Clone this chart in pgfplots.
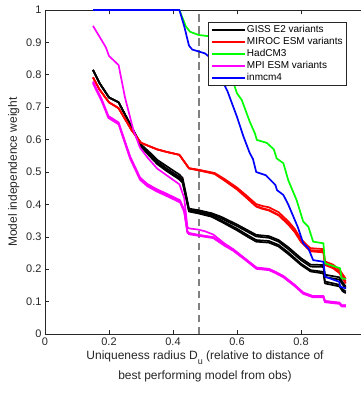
\documentclass[border=0pt]{standalone}
\usepackage{pgfplots}
\pgfplotsset{compat=1.18}
\usepackage{fontspec}
\setmainfont{Liberation Sans}
\definecolor{axgray}{gray}{0.15}
\definecolor{mag}{RGB}{255,0,255}
\definecolor{grn}{RGB}{0,255,0}
\definecolor{blu}{RGB}{0,0,255}
\definecolor{rd}{RGB}{255,0,0}
\begin{document}
\begin{tikzpicture}
\begin{axis}[
  scale only axis, width=320pt, height=324pt,
  xmin=0, xmax=1, ymin=0, ymax=1,
  xtick={0,0.2,0.4,0.6,0.8}, ytick={0,0.1,...,1.01},
  tick align=inside, tick pos=both, major tick length=4pt,
  /pgf/number format/assume math mode=true,
  /pgf/number format/fixed,
  ticklabel style={font=\fontsize{11}{13}\selectfont, text=axgray},
  axis line style={axgray, line width=0.6pt},
  every tick/.style={axgray, line width=0.6pt},
  xlabel={Uniqueness radius D\raisebox{-0.35em}{\fontsize{9}{10}\selectfont u} (relative to distance of\\best performing model from obs)},
  xlabel style={align=center, font=\fontsize{12}{19.5}\selectfont, text=axgray, yshift=1pt},
  ylabel={Model independence weight},
  ylabel style={font=\fontsize{12}{14}\selectfont, text=axgray},
  legend style={at={(rel axis cs:0.51,0.964)}, anchor=north west, font=\fontsize{10}{12}\selectfont, draw=axgray, line width=0.6pt, row sep=1.2pt, inner sep=2.5pt, nodes={inner sep=1pt}},
  legend cell align=left,
  legend image code/.code={\draw[#1, line width=2pt] (0pt,0pt) -- (33pt,0pt);},
  every axis plot/.append style={line width=1.7pt, line join=round},
]
% dashed line
\addplot[gray, line width=1.8pt, dash pattern=on 7.5pt off 4.5pt, forget plot] coordinates {(0.48,0) (0.48,1)};

% GISS E2 variants
\addplot[black] coordinates {(0.15,0.815)(0.17,0.775)(0.19,0.745)(0.20,0.73)(0.23,0.715)(0.27,0.64)(0.30,0.585)(0.33,0.558)(0.35,0.538)(0.38,0.518)(0.42,0.492)(0.43,0.482)(0.45,0.387)(0.48,0.382)(0.52,0.373)(0.55,0.362)(0.60,0.338)(0.63,0.322)(0.66,0.306)(0.70,0.302)(0.73,0.29)(0.76,0.268)(0.80,0.234)(0.83,0.214)(0.87,0.213)(0.875,0.183)(0.92,0.175)(0.93,0.16)(0.94,0.146)};
\addlegendentry{GISS E2 variants}
\addplot[black, forget plot] coordinates {(0.15,0.815)(0.17,0.775)(0.19,0.745)(0.20,0.73)(0.23,0.715)(0.27,0.64)(0.30,0.582)(0.33,0.553)(0.35,0.532)(0.38,0.511)(0.42,0.485)(0.43,0.475)(0.45,0.383)(0.48,0.378)(0.52,0.369)(0.55,0.357)(0.60,0.333)(0.63,0.317)(0.66,0.301)(0.70,0.297)(0.73,0.285)(0.76,0.262)(0.80,0.228)(0.83,0.208)(0.87,0.207)(0.875,0.176)(0.92,0.168)(0.93,0.153)(0.94,0.14)};
\addplot[black, forget plot] coordinates {(0.15,0.815)(0.17,0.775)(0.19,0.745)(0.20,0.73)(0.23,0.715)(0.27,0.64)(0.30,0.58)(0.33,0.549)(0.35,0.528)(0.38,0.506)(0.42,0.48)(0.43,0.47)(0.45,0.38)(0.48,0.375)(0.52,0.365)(0.55,0.351)(0.60,0.325)(0.63,0.307)(0.66,0.29)(0.70,0.287)(0.73,0.275)(0.76,0.252)(0.80,0.217)(0.83,0.197)(0.87,0.192)(0.875,0.162)(0.92,0.152)(0.93,0.138)(0.94,0.131)};
\addplot[black, forget plot] coordinates {(0.15,0.815)(0.17,0.775)(0.19,0.745)(0.20,0.73)(0.23,0.715)(0.27,0.64)(0.30,0.578)(0.33,0.546)(0.35,0.525)(0.38,0.503)(0.42,0.477)(0.43,0.467)(0.45,0.378)(0.48,0.372)(0.52,0.362)(0.55,0.347)(0.60,0.32)(0.63,0.302)(0.66,0.285)(0.70,0.282)(0.73,0.27)(0.76,0.247)(0.80,0.213)(0.83,0.193)(0.87,0.187)(0.875,0.156)(0.92,0.147)(0.93,0.132)(0.94,0.126)};

% MIROC ESM variants
\addplot[rd] coordinates {(0.15,0.792)(0.17,0.755)(0.20,0.715)(0.23,0.697)(0.27,0.63)(0.30,0.59)(0.35,0.57)(0.38,0.562)(0.42,0.553)(0.45,0.512)(0.48,0.507)(0.53,0.497)(0.56,0.479)(0.60,0.452)(0.63,0.427)(0.66,0.401)(0.68,0.395)(0.70,0.391)(0.73,0.376)(0.76,0.348)(0.78,0.325)(0.80,0.293)(0.82,0.273)(0.83,0.265)(0.87,0.262)(0.875,0.224)(0.90,0.214)(0.92,0.199)(0.94,0.17)};
\addlegendentry{MIROC ESM variants}
\addplot[rd, forget plot] coordinates {(0.15,0.792)(0.17,0.755)(0.20,0.715)(0.23,0.697)(0.27,0.63)(0.30,0.59)(0.35,0.57)(0.38,0.562)(0.42,0.553)(0.45,0.511)(0.48,0.506)(0.53,0.495)(0.56,0.476)(0.60,0.448)(0.63,0.422)(0.66,0.395)(0.68,0.388)(0.70,0.383)(0.73,0.368)(0.76,0.341)(0.78,0.318)(0.80,0.287)(0.82,0.267)(0.83,0.259)(0.87,0.256)(0.875,0.217)(0.90,0.207)(0.92,0.192)(0.94,0.162)};
\addplot[rd, forget plot] coordinates {(0.15,0.792)(0.17,0.755)(0.20,0.715)(0.23,0.697)(0.27,0.63)(0.30,0.59)(0.35,0.57)(0.38,0.562)(0.42,0.553)(0.45,0.511)(0.48,0.505)(0.53,0.494)(0.56,0.474)(0.60,0.446)(0.63,0.42)(0.66,0.393)(0.68,0.386)(0.70,0.381)(0.73,0.366)(0.76,0.338)(0.78,0.315)(0.80,0.284)(0.82,0.264)(0.83,0.255)(0.87,0.252)(0.875,0.213)(0.90,0.203)(0.92,0.188)(0.94,0.156)};

% HadCM3
\addplot[grn] coordinates {(0.15,1)(0.42,1)(0.44,0.95)(0.453,0.933)(0.48,0.923)(0.52,0.918)(0.54,0.90)(0.56,0.85)(0.58,0.80)(0.60,0.743)(0.615,0.722)(0.64,0.655)(0.656,0.619)(0.662,0.599)(0.693,0.59)(0.715,0.57)(0.724,0.542)(0.745,0.527)(0.76,0.475)(0.786,0.414)(0.807,0.347)(0.823,0.331)(0.838,0.285)(0.87,0.28)(0.875,0.218)(0.922,0.203)(0.927,0.172)(0.94,0.17)};
\addlegendentry{HadCM3}

% MPI ESM variants
\addplot[mag] coordinates {(0.15,0.951)(0.175,0.91)(0.19,0.885)(0.20,0.858)(0.23,0.83)(0.25,0.73)(0.276,0.63)(0.297,0.575)(0.32,0.545)(0.35,0.511)(0.38,0.49)(0.42,0.462)(0.435,0.42)(0.445,0.33)(0.45,0.326)(0.48,0.322)(0.50,0.317)(0.526,0.307)(0.56,0.28)(0.588,0.262)(0.62,0.237)(0.661,0.205)(0.70,0.201)(0.72,0.192)(0.745,0.179)(0.78,0.152)(0.807,0.128)(0.838,0.117)(0.87,0.117)(0.875,0.102)(0.92,0.097)(0.927,0.089)(0.94,0.089)};
\addlegendentry{MPI ESM variants}
\addplot[mag, forget plot] coordinates {(0.15,0.779)(0.177,0.725)(0.19,0.693)(0.198,0.673)(0.23,0.653)(0.266,0.548)(0.297,0.483)(0.32,0.463)(0.349,0.447)(0.38,0.433)(0.422,0.413)(0.435,0.383)(0.445,0.317)(0.45,0.312)(0.48,0.306)(0.526,0.299)(0.56,0.276)(0.588,0.26)(0.62,0.236)(0.661,0.204)(0.70,0.2)(0.72,0.191)(0.745,0.178)(0.78,0.151)(0.807,0.127)(0.838,0.116)(0.87,0.116)(0.875,0.101)(0.92,0.096)(0.927,0.088)(0.94,0.088)};
\addplot[mag, forget plot] coordinates {(0.15,0.776)(0.177,0.722)(0.19,0.69)(0.198,0.67)(0.23,0.65)(0.266,0.545)(0.297,0.48)(0.32,0.46)(0.349,0.444)(0.38,0.43)(0.422,0.41)(0.435,0.38)(0.445,0.315)(0.45,0.31)(0.48,0.305)(0.526,0.298)(0.56,0.275)(0.588,0.259)(0.62,0.235)(0.661,0.203)(0.70,0.199)(0.72,0.19)(0.745,0.177)(0.78,0.15)(0.807,0.126)(0.838,0.115)(0.87,0.115)(0.875,0.10)(0.92,0.095)(0.927,0.087)(0.94,0.087)};
\addplot[mag, forget plot] coordinates {(0.15,0.773)(0.177,0.719)(0.19,0.687)(0.198,0.667)(0.23,0.647)(0.266,0.541)(0.297,0.476)(0.32,0.456)(0.349,0.44)(0.38,0.426)(0.422,0.406)(0.435,0.377)(0.445,0.313)(0.45,0.308)(0.48,0.303)(0.526,0.296)(0.56,0.273)(0.588,0.257)(0.62,0.233)(0.661,0.201)(0.70,0.197)(0.72,0.188)(0.745,0.175)(0.78,0.148)(0.807,0.124)(0.838,0.113)(0.87,0.113)(0.875,0.098)(0.92,0.093)(0.927,0.085)(0.94,0.085)};

% inmcm4
\addplot[blu] coordinates {(0.15,1)(0.42,1)(0.435,0.95)(0.45,0.89)(0.46,0.878)(0.48,0.872)(0.50,0.866)(0.52,0.85)(0.54,0.81)(0.57,0.75)(0.60,0.67)(0.62,0.61)(0.64,0.558)(0.65,0.54)(0.66,0.50)(0.69,0.49)(0.71,0.47)(0.72,0.46)(0.725,0.444)(0.745,0.429)(0.76,0.40)(0.79,0.33)(0.807,0.28)(0.823,0.264)(0.838,0.228)(0.87,0.223)(0.875,0.177)(0.92,0.161)(0.922,0.146)(0.94,0.141)};
\addlegendentry{inmcm4}
\end{axis}
\pgfresetboundingbox
\path[use as bounding box] (-45pt,-60pt) rectangle (316pt,334pt);
\end{tikzpicture}
\end{document}
